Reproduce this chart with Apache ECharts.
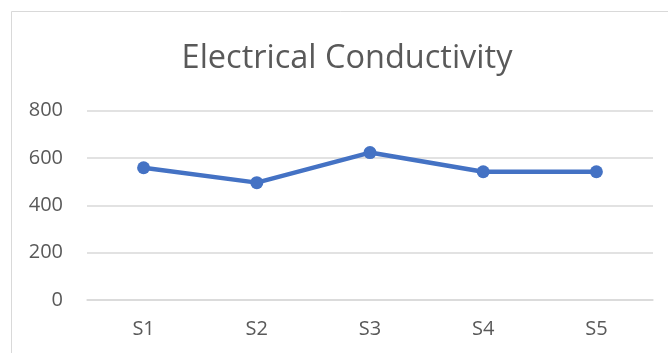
<!DOCTYPE html>
<html>
<head>
<meta charset="utf-8">
<script src="https://cdn.jsdelivr.net/npm/echarts@6/dist/echarts.min.js"></script>
<style>
  html, body { margin: 0; padding: 0; background: #fff; }
  #chart { width: 668px; height: 353px; }
</style>
</head>
<body>
<div id="chart"></div>
<script>
const categories = ['S1', 'S2', 'S3', 'S4', 'S5'];
const conductivity = [559, 496, 623, 542, 542];
const yTicks = [0, 200, 400, 600, 800];

const chart = echarts.init(document.getElementById('chart'), null, { renderer: 'canvas' });
const textColor = '#595959';
const font = '"Open Sans", "Noto Sans", sans-serif';

chart.setOption({
  animation: false,
  backgroundColor: '#ffffff',
  title: {
    text: 'Electrical Conductivity',
    left: 342,
    textAlign: 'center',
    top: 37,
    textStyle: { color: textColor, fontSize: 32.5, fontWeight: 'normal', fontFamily: font }
  },
  graphic: [{
    type: 'rect',
    shape: { x: 11.5, y: 11.5, width: 700, height: 400 },
    style: { fill: 'none', stroke: '#d9d9d9', lineWidth: 1 },
    silent: true
  }],
  grid: { left: 87, right: 15, top: 110.7, bottom: 53 },
  xAxis: {
    type: 'category',
    data: categories,
    boundaryGap: true,
    axisLine: { show: true, lineStyle: { color: '#d9d9d9', width: 1.5 } },
    axisTick: { show: false },
    axisLabel: { color: textColor, fontSize: 20, fontFamily: font, margin: 19 }
  },
  yAxis: {
    type: 'value',
    min: yTicks[0],
    max: yTicks[yTicks.length - 1],
    interval: yTicks[1] - yTicks[0],
    axisLine: { show: false },
    axisTick: { show: false },
    splitLine: { lineStyle: { color: '#d9d9d9', width: 1.5 } },
    axisLabel: { color: textColor, fontSize: 20, fontFamily: font, margin: 24 }
  },
  series: [{
    type: 'line',
    data: conductivity,
    symbol: 'circle',
    symbolSize: 13,
    lineStyle: { color: '#4472C4', width: 4.5 },
    itemStyle: { color: '#4472C4' }
  }]
});
</script>
</body>
</html>
